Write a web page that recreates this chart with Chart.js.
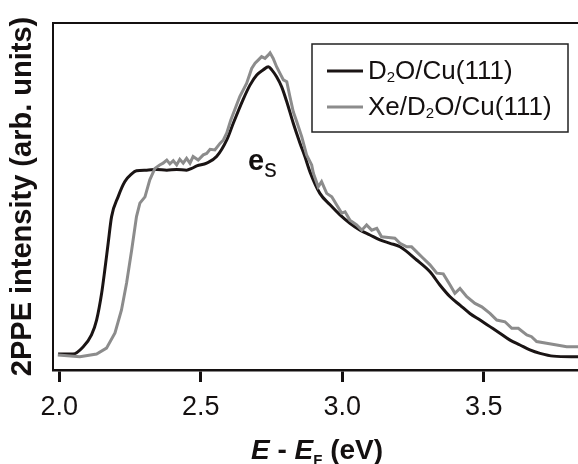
<!DOCTYPE html>
<html>
<head>
<meta charset="utf-8">
<script src="https://cdn.jsdelivr.net/npm/chart.js@4.4.1/dist/chart.umd.min.js"></script>
<style>
  html, body { margin: 0; padding: 0; background: #fff; }
  #wrap { width: 578px; height: 464px; }
</style>
</head>
<body>
<div id="wrap"><canvas id="ppe-chart" width="578" height="464"></canvas></div>
<script>
// ---- data (energy in eV, intensity in arb. units 0..100) ----
const seriesNames = ['D2O/Cu(111)', 'Xe/D2O/Cu(111)'];

const d2oEnergy = [1.996, 2.049, 2.085, 2.114, 2.132, 2.150, 2.161, 2.173, 2.185, 2.208, 2.232, 2.256, 2.273,
  2.309, 2.344, 2.380, 2.415, 2.450, 2.468, 2.486, 2.521, 2.556, 2.592, 2.615, 2.650, 2.674, 2.698, 2.721, 2.739,
  2.751, 2.768, 2.786, 2.804, 2.827, 2.851, 2.868, 2.886, 2.921, 2.957, 2.992, 3.027, 3.063, 3.098, 3.133, 3.169,
  3.204, 3.263, 3.310, 3.345, 3.381, 3.416, 3.451, 3.487, 3.522, 3.557, 3.593, 3.628, 3.663, 3.699, 3.746, 3.833];
const d2oIntensity = [4.6, 4.6, 6.7, 10.1, 14.4, 22.2, 28.8, 36.6, 44.2, 49.9, 54.3, 56.5, 57.4,
  57.6, 57.8, 57.6, 57.8, 57.6, 58.1, 58.8, 59.6, 61.5, 66.3, 71.1, 78.0, 82.1, 85.0, 86.5, 87.4,
  86.5, 84.5, 81.6, 77.3, 71.1, 65.3, 61.5, 57.1, 50.9, 47.6, 44.7, 42.3, 40.3, 38.9, 37.5, 36.5,
  35.5, 31.7, 28.3, 24.5, 21.1, 18.7, 16.3, 14.4, 12.5, 10.6, 8.6, 7.2, 5.8, 4.8, 4.0, 3.8];

const xeEnergy = [1.995, 2.073, 2.132, 2.167, 2.197, 2.220, 2.238, 2.256, 2.273, 2.285, 2.303, 2.320, 2.338,
  2.355, 2.367, 2.380, 2.391, 2.403, 2.415, 2.426, 2.438, 2.450, 2.462, 2.473, 2.491, 2.509, 2.521, 2.533, 2.550,
  2.568, 2.580, 2.592, 2.606, 2.638, 2.662, 2.680, 2.692, 2.703, 2.715, 2.727, 2.739, 2.745, 2.756, 2.768, 2.780,
  2.792, 2.804, 2.815, 2.827, 2.839, 2.857, 2.874, 2.892, 2.898, 2.915, 2.927, 2.945, 2.963, 2.980, 2.998, 3.010,
  3.027, 3.051, 3.069, 3.086, 3.104, 3.122, 3.139, 3.163, 3.186, 3.204, 3.228, 3.245, 3.286, 3.310, 3.334, 3.357,
  3.381, 3.398, 3.416, 3.440, 3.469, 3.493, 3.522, 3.546, 3.575, 3.599, 3.622, 3.652, 3.669, 3.687, 3.722, 3.758,
  3.793, 3.833];
const xeIntensity = [4.3, 3.8, 4.6, 6.3, 10.7, 17.3, 25.1, 34.6, 44.2, 48.1, 49.9, 54.8, 58.1,
  59.1, 59.6, 60.5, 59.4, 60.3, 59.1, 60.7, 59.6, 61.0, 59.6, 61.5, 60.5, 62.0, 62.4, 63.6, 63.4,
  65.3, 66.3, 68.3, 72.0, 78.8, 82.6, 86.9, 88.4, 89.3, 90.3, 89.8, 90.8, 91.4, 89.8, 87.4, 85.5,
  83.6, 83.1, 78.8, 74.4, 71.6, 67.2, 62.0, 59.1, 56.7, 52.8, 54.3, 50.9, 49.9, 47.6, 45.2, 45.6,
  43.2, 41.8, 40.3, 41.8, 40.3, 40.8, 38.4, 38.2, 38.0, 36.5, 35.5, 35.5, 32.2, 30.3, 27.9, 27.7,
  24.5, 22.1, 23.5, 21.1, 19.2, 18.2, 16.3, 14.4, 13.9, 12.0, 12.0, 10.1, 9.6, 8.2, 7.7, 7.2,
  6.7, 6.7];

const tickValues = [2.0, 2.5, 3.0, 3.5];
const tickLabels = ['2.0', '2.5', '3.0', '3.5'];

const FONT = '"Liberation Sans", Arial, Helvetica, sans-serif';
const INK = '#141010';
const BLACK_LINE = '#1a1414';
const GRAY_LINE = '#8c8c8c';

function toPoints(xs, ys) {
  return xs.map((x, i) => ({ x, y: ys[i] }));
}

// draws text pieces one after another: [{text, font, dy}]
function drawRuns(ctx, runs, x, y) {
  let cx = x;
  for (const r of runs) {
    ctx.font = r.font;
    ctx.fillText(r.text, cx, y + (r.dy || 0));
    cx += ctx.measureText(r.text).width;
  }
  return cx;
}

function runsWidth(ctx, runs) {
  let w = 0;
  for (const r of runs) {
    ctx.font = r.font;
    w += ctx.measureText(r.text).width;
  }
  return w;
}

// top frame line, x-axis title, legend, e_s label
const decorPlugin = {
  id: 'decor',
  afterDraw(chart) {
    const { ctx, chartArea } = chart;
    const xs = chart.scales.x;
    const ys = chart.scales.y;
    ctx.save();

    // top frame
    ctx.strokeStyle = INK;
    ctx.lineWidth = 2;
    ctx.beginPath();
    ctx.moveTo(chartArea.left - 1, chartArea.top);
    ctx.lineTo(chartArea.right, chartArea.top);
    ctx.stroke();

    ctx.fillStyle = INK;
    ctx.textBaseline = 'alphabetic';
    ctx.textAlign = 'left';

    // x-axis title:  E - E_F (eV)
    const titleRuns = [
      { text: 'E', font: `italic bold 28px ${FONT}` },
      { text: ' - ', font: `bold 28px ${FONT}` },
      { text: 'E', font: `italic bold 28px ${FONT}` },
      { text: 'F', font: `bold 15px ${FONT}`, dy: 6 },
      { text: ' (eV)', font: `bold 28px ${FONT}` },
    ];
    const tw = runsWidth(ctx, titleRuns);
    drawRuns(ctx, titleRuns, 317 - tw / 2, 459);

    // legend box
    const bx = 312, by = 44, bw = 256, bh = 88;
    ctx.fillStyle = '#fff';
    ctx.fillRect(bx, by, bw, bh);
    ctx.strokeStyle = '#222';
    ctx.lineWidth = 1.5;
    ctx.strokeRect(bx, by, bw, bh);

    const rows = [
      { y: 71, color: chart.data.datasets[0].borderColor,
        runs: [{ text: 'D', font: `26px ${FONT}` }, { text: '2', font: `15px ${FONT}`, dy: 3 },
               { text: 'O/Cu(111)', font: `26px ${FONT}` }] },
      { y: 107, color: chart.data.datasets[1].borderColor,
        runs: [{ text: 'Xe/D', font: `26px ${FONT}` }, { text: '2', font: `15px ${FONT}`, dy: 3 },
               { text: 'O/Cu(111)', font: `26px ${FONT}` }] },
    ];
    for (const r of rows) {
      ctx.strokeStyle = r.color;
      ctx.lineWidth = 3;
      ctx.beginPath();
      ctx.moveTo(327, r.y);
      ctx.lineTo(363, r.y);
      ctx.stroke();
      ctx.fillStyle = INK;
      drawRuns(ctx, r.runs, 368, r.y + 8);
    }

    // e_s label at the plateau/peak
    const ex = xs.getPixelForValue(2.667);
    const ey = ys.getPixelForValue(57.6);
    drawRuns(ctx, [
      { text: 'e', font: `bold 29px ${FONT}` },
      { text: 's', font: `25px ${FONT}`, dy: 7 },
    ], ex, ey);

    ctx.restore();
  },
};

function buildChart() {
  const ctx = document.getElementById('ppe-chart').getContext('2d');
  return new Chart(ctx, {
    type: 'line',
    data: {
      datasets: [
        {
          label: seriesNames[0],
          data: toPoints(d2oEnergy, d2oIntensity),
          borderColor: BLACK_LINE,
          borderWidth: 3,
          pointRadius: 0,
          cubicInterpolationMode: 'monotone',
          fill: false,
          order: 2,
        },
        {
          label: seriesNames[1],
          data: toPoints(xeEnergy, xeIntensity),
          borderColor: GRAY_LINE,
          borderWidth: 3,
          pointRadius: 0,
          tension: 0,
          fill: false,
          order: 1,
        },
      ],
    },
    options: {
      responsive: false,
      animation: false,
      layout: { padding: { top: 23, left: 0, right: 0, bottom: 0 } },
      plugins: {
        legend: { display: false },
        tooltip: { enabled: false },
      },
      scales: {
        x: {
          type: 'linear',
          min: 1.978,
          max: 3.833,
          afterBuildTicks(scale) {
            scale.ticks = tickValues.map((v) => ({ value: v }));
          },
          afterFit(scale) { scale.height = 94; },
          ticks: {
            color: INK,
            padding: 9,
            font: { family: FONT, size: 27 },
            maxRotation: 0,
            autoSkip: false,
            callback: (v) => tickLabels[tickValues.indexOf(v)] ?? '',
          },
          grid: {
            drawOnChartArea: false,
            drawTicks: true,
            tickLength: 12,
            color: INK,
            lineWidth: 3,
          },
          border: { display: true, color: INK, width: 2.5 },
        },
        y: {
          type: 'linear',
          min: 0,
          max: 100,
          afterFit(scale) { scale.width = 53; },
          ticks: { display: false },
          grid: { display: false, drawTicks: false },
          border: { display: true, color: INK, width: 2 },
          title: {
            display: true,
            text: '2PPE intensity (arb. units)',
            color: INK,
            font: { family: FONT, size: 29, weight: 'bold', lineHeight: 1.2 },
            padding: { top: 6, bottom: 0 },
          },
        },
      },
    },
    plugins: [decorPlugin],
  });
}

document.addEventListener('DOMContentLoaded', buildChart);
</script>
</body>
</html>
